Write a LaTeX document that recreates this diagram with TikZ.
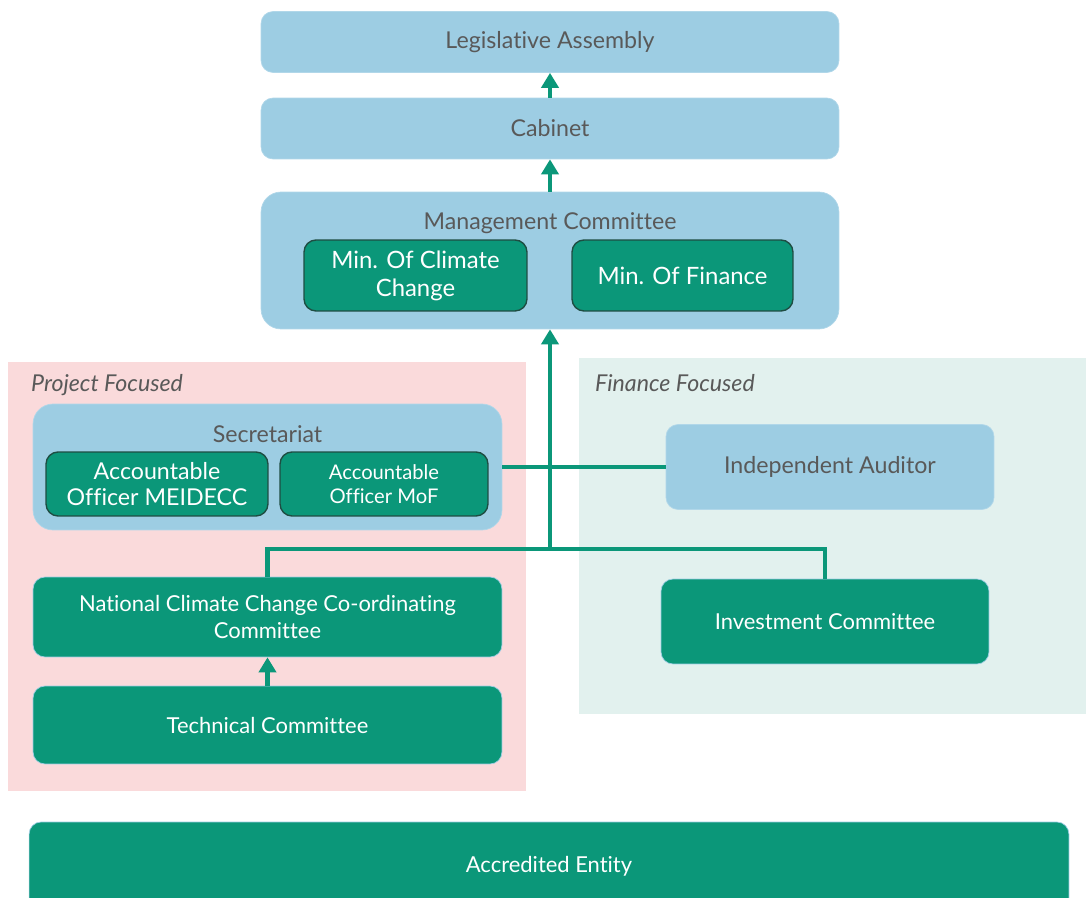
\documentclass[tikz,border=0pt]{standalone}
\usepackage{fontspec}
\setmainfont{Lato}[Ligatures={NoCommon}]
\usepackage{tikz}
\usetikzlibrary{arrows.meta}

\definecolor{paleblue}{HTML}{9DCDE3}
\definecolor{teal}{HTML}{0B9779}
\definecolor{darkteal}{HTML}{1E4D42}
\definecolor{greytext}{HTML}{595959}
\definecolor{pinkzone}{HTML}{FADADB}
\definecolor{mintzone}{HTML}{E2F1EE}

\tikzset{
  bluebox/.style={draw=paleblue!80!white,fill=paleblue,rounded corners=0.24cm,text=greytext,align=center,font=\fontsize{13.2}{16}\selectfont},
  greenbox/.style={draw=paleblue,fill=teal,rounded corners=0.24cm,text=white,align=center,font=\fontsize{12.5}{15}\selectfont},
  memberbox/.style={draw=darkteal,line width=0.8pt,fill=teal,rounded corners=0.24cm,text=white,align=center,font=\fontsize{13.6}{16}\selectfont},
  link/.style={teal,line width=2.8pt},
  uplink/.style={link,-{Triangle[width=0.34cm,length=0.3cm]}},
  zonelabel/.style={anchor=west,text=greytext,font=\itshape\fontsize{13.2}{16}\selectfont}
}

\begin{document}
\begin{tikzpicture}[x=0.02cm,y=-0.02cm]
  \useasboundingbox (0,0) rectangle (1086,898);

  % zones
  \fill[pinkzone] (8,362) rectangle (526,791);
  \fill[mintzone] (579,358) rectangle (1086,714);
  \node[zonelabel] (projlbl) at (25,385) {Project Focused};
  \node[zonelabel] (finlbl) at (589,383) {Finance Focused};

  % top of the chain
  \node[bluebox,minimum width=11.56cm,minimum height=1.22cm] (leg) at (550,42) {Legislative Assembly};
  \node[bluebox,minimum width=11.56cm,minimum height=1.22cm] (cab) at (550,128.5) {Cabinet};
  \node[bluebox,rounded corners=0.4cm,minimum width=11.56cm,minimum height=2.74cm] (mgmt) at (550,260.5) {};
  \node[text=greytext,font=\fontsize{13.2}{16}\selectfont] (mgmtlbl) at (550,223) {Management Committee};
  \node[memberbox,minimum width=4.46cm,minimum height=1.42cm] (mincc) at (415.5,275.5) {Min. Of Climate\\Change};
  \node[memberbox,minimum width=4.42cm,minimum height=1.42cm] (minfin) at (682.5,275.5) {Min. Of Finance};

  % secretariat
  \node[bluebox,rounded corners=0.4cm,minimum width=9.38cm,minimum height=2.52cm] (sec) at (267.5,467) {};
  \node[text=greytext,font=\fontsize{13.2}{16}\selectfont] (seclbl) at (267.5,434) {Secretariat};
  \node[memberbox,font=\fontsize{13.2}{15}\selectfont,minimum width=4.44cm,minimum height=1.28cm] (aomei) at (157,484) {Accountable\\Officer MEIDECC};
  \node[memberbox,font=\fontsize{11.5}{14}\selectfont,minimum width=4.16cm,minimum height=1.28cm] (aomof) at (384,484) {Accountable\\Officer MoF};

  \node[bluebox,minimum width=6.56cm,minimum height=1.7cm] (aud) at (830,467) {Independent Auditor};

  % committees
  \node[greenbox,minimum width=9.38cm,minimum height=1.6cm] (nccc) at (267.5,617) {National Climate Change Co-ordinating\\Committee};
  \node[greenbox,minimum width=9.38cm,minimum height=1.56cm] (tech) at (267.5,725) {Technical Committee};
  \node[greenbox,minimum width=6.56cm,minimum height=1.7cm] (inv) at (825,621.5) {Investment Committee};
  \node[greenbox,minimum width=20.8cm,minimum height=1.76cm] (acc) at (549,866) {Accredited Entity};

  % connectors
  \coordinate (hub) at (550,549);
  \draw[uplink] (cab.north) -- (leg.south);
  \draw[uplink] (mgmt.north) -- (cab.south);
  \draw[uplink] (hub) -- (mgmt.south);
  \draw[link] (sec.east) -- (aud.west);
  \draw[link] (nccc.north) |- (hub) -| (inv.north);
  \draw[uplink] (tech.north) -- (nccc.south);
\end{tikzpicture}
\end{document}
